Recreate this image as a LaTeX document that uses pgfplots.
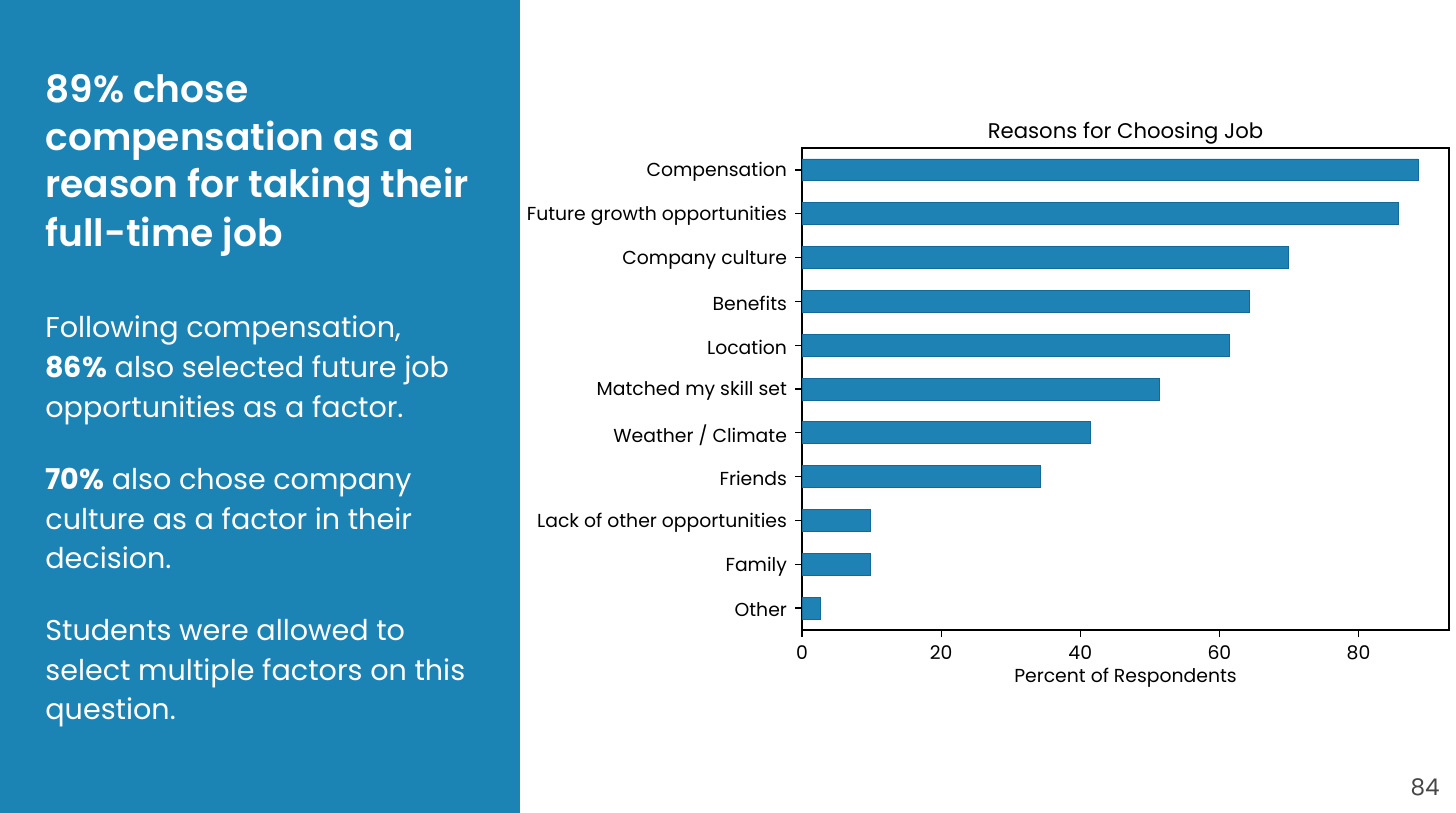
\documentclass[border=0pt]{standalone}
\usepackage{pgfplots}
\pgfplotsset{compat=1.18}
\usepackage{fontspec}
\setmainfont{Poppins}
\newfontfamily\headfont{Poppins SemiBold}

\definecolor{panelblue}{RGB}{28,131,181}
\definecolor{barblue}{RGB}{31,130,181}
\definecolor{baredge}{RGB}{20,105,155}
\definecolor{pagegray}{RGB}{70,70,70}

\pgfplotstableread{
y  pct  name
10 88.6 {Compensation}
9  85.7 {Future growth opportunities}
8  69.9 {Company culture}
7  64.3 {Benefits}
6  61.4 {Location}
5  51.4 {Matched my skill set}
4  41.4 {Weather / Climate}
3  34.2 {Friends}
2  9.9  {Lack of other opportunities}
1  9.9  {Family}
0  2.7  {Other}
}\reasons

\begin{document}
\begin{tikzpicture}
\begin{scope}[x=0.5pt,y=-0.5pt]
% page and left panel
\fill[white] (0,0) rectangle (1456,813);
\fill[panelblue] (0,0) rectangle (520,813);
\useasboundingbox (0,0) rectangle (1456,813);
\coordinate (axorigin) at (802,630);

% headline
\begin{scope}[every node/.style={anchor=base west,inner sep=0pt,text=white,font=\headfont\fontsize{18.8}{24}\selectfont}]
\node at (45,103) {89\% chose};
\node at (45,150) {compensation as a};
\node at (45,198) {reason for taking their};
\node at (45,246) {full-time job};
\end{scope}

% body text
\begin{scope}[every node/.style={anchor=base west,inner sep=0pt,text=white,font=\fontsize{14.3}{16}\selectfont}]
\node at (45,337) {Following compensation,};
\node at (45,377) {\textbf{86\%} also selected future job};
\node at (45,417) {opportunities as a factor.};
\node at (45,489) {\textbf{70\%} also chose company};
\node at (45,529) {culture as a factor in their};
\node at (45,568) {decision.};
\node at (45,640) {Students were allowed to};
\node at (45,680) {select multiple factors on this};
\node at (45,719) {question.};
\end{scope}

% page number
\node[anchor=base east,inner sep=0pt,text=pagegray,font=\fontsize{11.5}{13}\selectfont] at (1440,795) {84};
\end{scope}

\begin{axis}[
  at={(axorigin)}, anchor=south west,
  scale only axis,
  width=323.5pt, height=241pt,
  xbar, bar width=0.5,
  xmin=0, xmax=93,
  ymin=-0.5, ymax=10.5,
  xtick={0,20,40,60,80},
  ytick={0,...,10},
  yticklabels={Other,Family,Lack of other opportunities,Friends,Weather / Climate,Matched my skill set,Location,Benefits,Company culture,Future growth opportunities,Compensation},
  tick align=outside, tick pos=left,
  major tick length=3.5pt,
  axis line style={line width=0.8pt},
  every tick/.style={black,line width=0.6pt},
  /pgf/number format/assume math mode=true,
  ticklabel style={font=\fontsize{9.4}{11}\selectfont},
  yticklabel style={xshift=-0.5pt, yshift=-1pt},
  xticklabel style={yshift=-1pt},
  xlabel={Percent of Respondents},
  xlabel style={font=\fontsize{9.4}{11}\selectfont, yshift=3pt},
  title={Reasons for Choosing Job},
  title style={font=\fontsize{10.6}{12}\selectfont, yshift=-7.5pt},
]
\addplot[fill=barblue, draw=baredge, line width=0.4pt] table[x=pct,y=y] {\reasons};
\end{axis}
\end{tikzpicture}
\end{document}
